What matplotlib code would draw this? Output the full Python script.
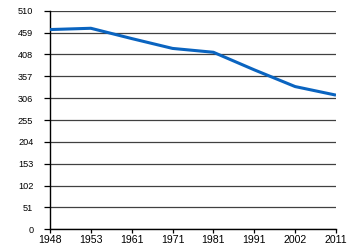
import matplotlib
matplotlib.use("Agg")
import matplotlib.pyplot as plt
import numpy as np

years = ["1948", "1953", "1961", "1971", "1981", "1991", "2002", "2011"]
values = [466, 469, 445, 422, 413, 372, 333, 313]
yticks = [0, 51, 102, 153, 204, 255, 306, 357, 408, 459, 510]

plt.rcParams['font.family'] = ['Liberation Sans', 'DejaVu Sans']

fig = plt.figure(figsize=(3.5, 2.5), dpi=100)
W, H = 350, 250
left, right, top, bottom = 50, 336, 10.7, 229.3
ax = fig.add_axes([left / W, (H - bottom) / H, (right - left) / W, (bottom - top) / H])

x = np.arange(len(years))
ax.plot(x, values, color='#0a64c0', lw=2.2, solid_joinstyle='round', solid_capstyle='butt', zorder=3)

ax.set_xlim(0, len(years) - 1)
ax.set_ylim(0, 510)
ax.set_yticks(yticks)
ax.set_yticklabels([str(v) for v in yticks])
ax.set_xticks(x)
ax.set_xticklabels(years)

ax.yaxis.grid(True, color='#404040', lw=0.9)
ax.set_axisbelow(True)
for s in ['top', 'right']:
    ax.spines[s].set_visible(False)
for s in ['left', 'bottom']:
    ax.spines[s].set_color('black')
    ax.spines[s].set_linewidth(1.0)

ax.tick_params(axis='y', length=4, width=0.9, pad=8, labelsize=6.6, colors='black')
ax.tick_params(axis='x', length=3, width=0.9, pad=1, labelsize=7.6, colors='black')

fig.savefig("out.png", dpi=100)
